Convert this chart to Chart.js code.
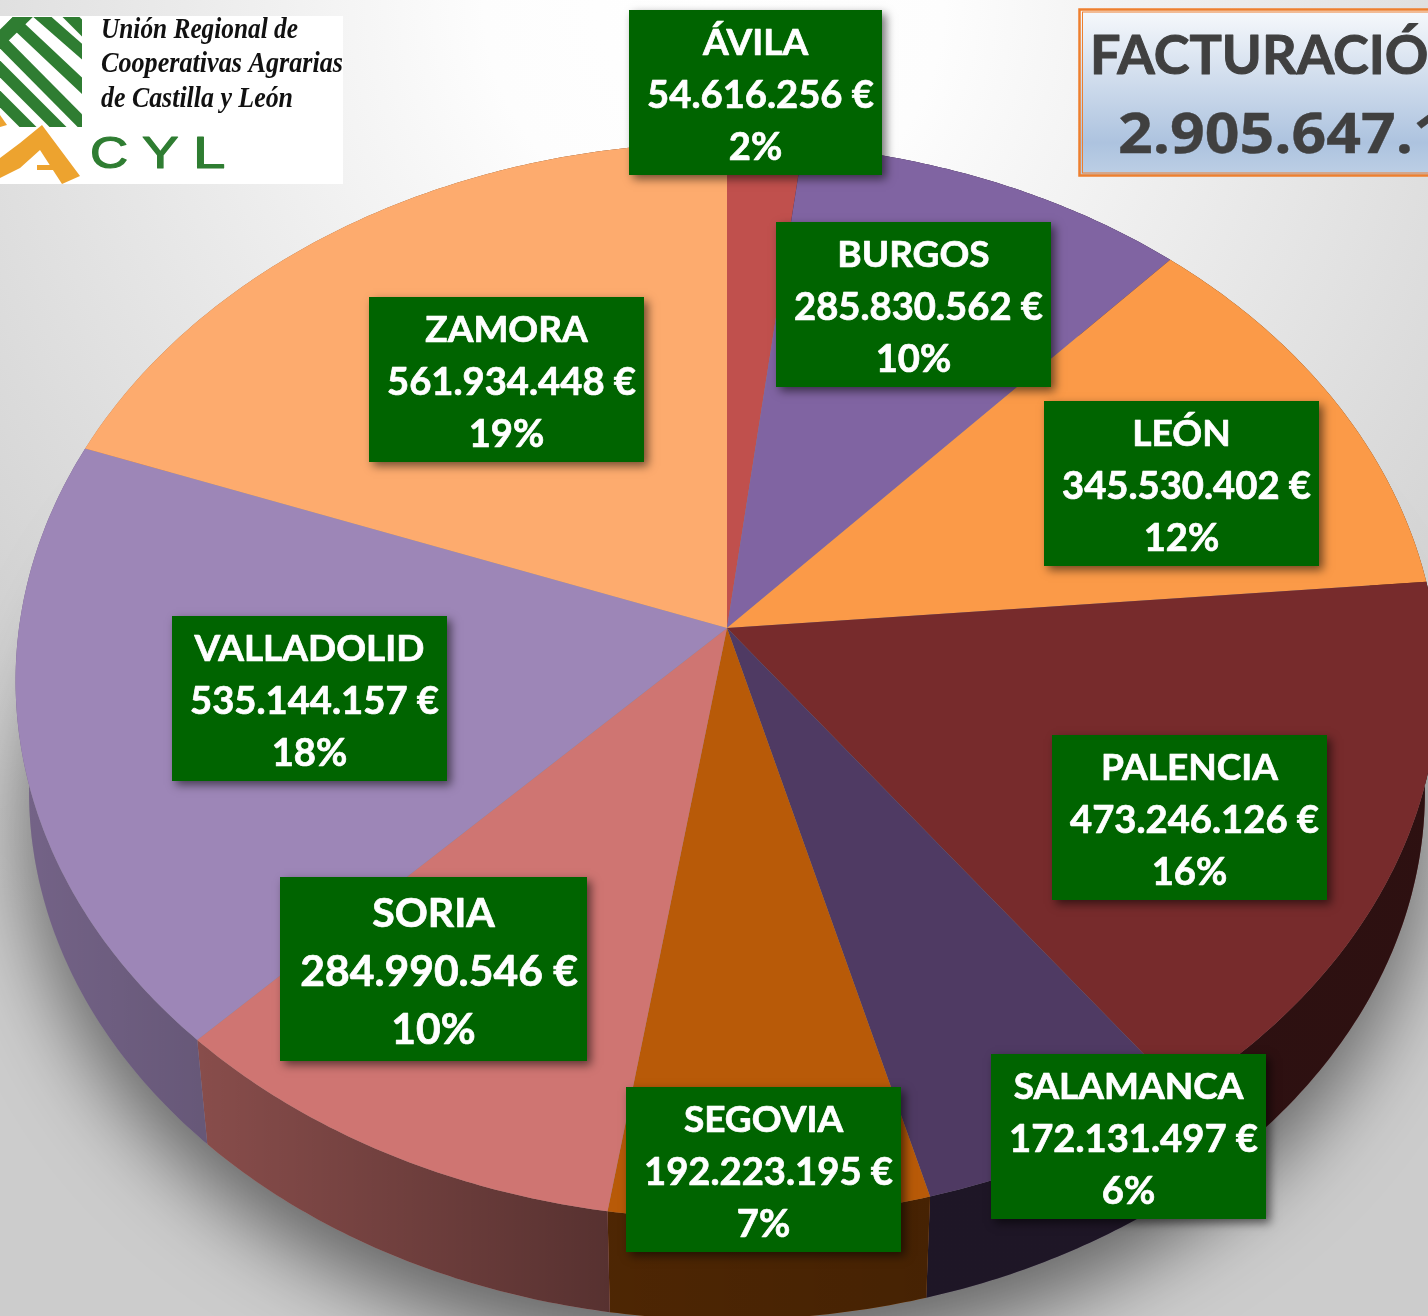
<!DOCTYPE html>
<html lang="es">
<head>
<meta charset="utf-8">
<title>Facturación</title>
<style>html,body{margin:0;padding:0;background:#ccc;overflow:hidden}canvas{display:block}</style>
<script src="https://cdn.jsdelivr.net/npm/chart.js@4/dist/chart.umd.js"></script>
</head>
<body>
<canvas id="c" width="1428" height="1316"></canvas>
<script>
const provinces = ['ÁVILA','BURGOS','LEÓN','PALENCIA','SALAMANCA','SEGOVIA','SORIA','VALLADOLID','ZAMORA'];
const revenue = [54616256,285830562,345530402,473246126,172131497,192223195,284990546,535144157,561934448];
const sliceColors = ['#c0504d','#8064a2','#fb9a48','#772b2c','#4f3a63','#b85a08','#cf7572','#9d86b7','#fdab6e'];
const totalTitle = 'FACTURACIÓN';
const totalValue = '2.905.647.189 €';
const logoLines = ['Unión Regional de','Cooperativas Agrarias','de Castilla y León'];

// Layout of annotations (separate from data)
const labelBoxes = [[629,10,253,165],[776,222,275,165],[1044,401,275,165],[1052,735,275,165],[991,1054,275,165],[626,1087,275,165],[280,877,307,184],[172,616,275,165],[369,297,275,165]];

// Perspective of the pie's top face and its lower rim
const P = {cx:727, cy:628, a:708, b:533, k:0.098, rim:0.981, drop:112};
function project(theta, lower){
  const X = Math.sin(theta), Y = -Math.cos(theta), w = 1 - P.k*Y;
  let x = P.a*X/w, y = P.b*Y/w;
  if(lower){ x*=P.rim; y=y*P.rim+P.drop; }
  return [P.cx+x, P.cy+y];
}
function arcPts(a0,a1,lower){
  const n = Math.max(2,Math.ceil(Math.abs(a1-a0)/0.01)), pts=[];
  for(let i=0;i<=n;i++) pts.push(project(a0+(a1-a0)*i/n,lower));
  return pts;
}
const theta = a => a + Math.PI/2;
function wallShade(ctx){
  const g = ctx.createLinearGradient(0,0,1428,0);
  g.addColorStop(0,'rgba(0,0,0,0.25)');
  g.addColorStop(0.147,'rgba(0,0,0,0.35)');
  g.addColorStop(0.427,'rgba(0,0,0,0.58)');
  g.addColorStop(0.65,'rgba(0,0,0,0.62)');
  g.addColorStop(1,'rgba(0,0,0,0.62)');
  return g;
}
function boldText(ctx,text,x,y,weight){
  ctx.fillText(text,x,y);
  ctx.lineWidth=weight; ctx.lineJoin='round'; ctx.strokeStyle=ctx.fillStyle;
  ctx.strokeText(text,x,y);
}
function drawLogo(ctx){
  ctx.save();
  ctx.fillStyle='#fff'; ctx.fillRect(0,16,343,168);
  ctx.save();
  ctx.beginPath(); ctx.rect(0,17,82,110); ctx.clip();
  ctx.strokeStyle='#2f7d32'; ctx.lineWidth=12; ctx.lineCap='butt';
  [[[60,6],[94,40]],[[31,7],[95,63]],[[11,19],[95,98]],[[-7,33],[95,136]],[[-13,56],[70,139]],[[-13,86],[40,139]]].forEach(s=>{
    ctx.beginPath(); ctx.moveTo(s[0][0],s[0][1]); ctx.lineTo(s[1][0],s[1][1]); ctx.stroke();
  });
  ctx.lineWidth=14;
  ctx.beginPath(); ctx.moveTo(30,10); ctx.lineTo(-8,47); ctx.stroke();
  ctx.restore();
  ctx.fillStyle='#eda32f';
  ctx.beginPath(); ctx.moveTo(0,115); ctx.lineTo(7,125); ctx.lineTo(0,127); ctx.closePath(); ctx.fill();
  ctx.beginPath();
  [[42,125],[80,176],[62,184],[40,150],[20,168],[0,178],[0,158],[20,143]].forEach((p,i)=>i?ctx.lineTo(p[0],p[1]):ctx.moveTo(p[0],p[1]));
  ctx.closePath();ctx.fill();
  ctx.fillRect(37,165,22,5);
  ctx.fillStyle='#111'; ctx.textAlign='left'; ctx.textBaseline='alphabetic';
  ctx.font='italic 700 30px "Liberation Serif"';
  ctx.fillText(logoLines[0],101,38,197);
  ctx.fillText(logoLines[1],101,72,242);
  ctx.fillText(logoLines[2],101,107,192);
  ctx.fillStyle='#2f7d32'; ctx.font='44px "Liberation Sans"';
  [['C',90,1.2],['Y',142,1.25],['L',193,1.32]].forEach(([t,x,sx])=>{
    ctx.save(); ctx.translate(x,168); ctx.scale(sx,1); boldText(ctx,t,0,0,1.2); ctx.restore();
  });
  ctx.restore();
}
function drawTitle(ctx){
  ctx.save();
  const g = ctx.createLinearGradient(0,9,0,176);
  g.addColorStop(0,'#f7f9fc'); g.addColorStop(0.8,'#adc3df'); g.addColorStop(1,'#bdcfe5');
  ctx.fillStyle=g; ctx.fillRect(1079,9,360,167);
  ctx.strokeStyle='#ee7f2e'; ctx.lineWidth=2.5; ctx.strokeRect(1079.5,9.5,360,166);
  ctx.lineWidth=1; ctx.strokeRect(1082.5,12,360,161);
  ctx.fillStyle='#404040'; ctx.textAlign='left'; ctx.textBaseline='alphabetic';
  ctx.font='700 54px Lato';
  boldText(ctx,totalTitle,1090,74,1);
  ctx.font='700 56px "Open Sans"';
  ctx.translate(1118,153); ctx.scale(1.085,1);
  boldText(ctx,totalValue,0,0,0.4);
  ctx.restore();
}
const euro = n => String(n).replace(/\B(?=(\d{3})+$)/g,'.') + ' €';
const pct = v => Math.round(100*v/revenue.reduce((s,x)=>s+x,0)) + '%';
function drawLabels(ctx){
  provinces.forEach((name,i)=>{
    const [x,y,w,h]=labelBoxes[i], s=h/165;
    ctx.save();
    ctx.shadowColor='rgba(0,0,0,0.55)'; ctx.shadowBlur=9; ctx.shadowOffsetX=4; ctx.shadowOffsetY=4;
    ctx.fillStyle='#006400'; ctx.fillRect(x,y,w,h);
    ctx.restore();
    ctx.save();
    ctx.fillStyle='#fff'; ctx.textAlign='center'; ctx.textBaseline='alphabetic';
    const cx=x+w/2;
    ctx.font='700 '+Math.round(37*s)+'px Lato';
    boldText(ctx,name,cx,y+44.5*s,0.7);
    ctx.font='700 '+(38.2*s).toFixed(1)+'px Lato';
    boldText(ctx,euro(revenue[i]),cx+5*s,y+98*s,0.7);
    boldText(ctx,pct(revenue[i]),cx,y+149.5*s,0.7);
    ctx.restore();
  });
}

const pie3d = {
  id:'pie3d',
  beforeDraw(chart){
    const ctx=chart.ctx;
    const g=ctx.createRadialGradient(714,0,0,714,0,1150);
    g.addColorStop(0,'#ffffff'); g.addColorStop(0.2,'#fdfdfd'); g.addColorStop(0.85,'#d0d0d0'); g.addColorStop(1,'#cccccc');
    ctx.save(); ctx.fillStyle=g; ctx.fillRect(0,0,1428,1316); ctx.restore();
  },
  beforeDatasetsDraw(chart){
    const ctx=chart.ctx, arcs=chart.getDatasetMeta(0).data;
    // drop shadow below the disc
    ctx.save();
    ctx.shadowColor='rgba(0,0,0,0.5)'; ctx.shadowBlur=80; ctx.shadowOffsetY=40;
    ctx.fillStyle='#888';
    ctx.beginPath();
    arcPts(0,Math.PI*2,true).forEach((p,i)=>i?ctx.lineTo(p[0],p[1]):ctx.moveTo(p[0],p[1]));
    ctx.closePath(); ctx.fill();
    ctx.restore();
    // side walls
    const shade=wallShade(ctx);
    arcs.forEach(el=>{
      const t0=theta(el.startAngle), t1=theta(el.endAngle);
      const top=arcPts(t0,t1,false), low=arcPts(t1,t0,true);
      ctx.save();
      ctx.beginPath();
      top.concat(low).forEach((p,j)=>j?ctx.lineTo(p[0],p[1]):ctx.moveTo(p[0],p[1]));
      ctx.closePath();
      ctx.fillStyle=el.options.backgroundColor; ctx.fill();
      ctx.fillStyle=shade; ctx.fill();
      ctx.restore();
    });
    // top faces replace the library's circular arc path
    arcs.forEach(el=>{
      el.draw=function(c){
        const pts=arcPts(theta(this.startAngle),theta(this.endAngle),false);
        c.save();
        c.beginPath(); c.moveTo(P.cx,P.cy);
        pts.forEach(p=>c.lineTo(p[0],p[1]));
        c.closePath();
        c.fillStyle=this.options.backgroundColor; c.fill();
        c.restore();
      };
    });
  },
  afterDraw(chart){
    const ctx=chart.ctx;
    drawLogo(ctx); drawTitle(ctx); drawLabels(ctx);
  }
};

new Chart(document.getElementById('c'),{
  type:'pie',
  data:{labels:provinces,datasets:[{data:revenue,backgroundColor:sliceColors,borderWidth:0}]},
  options:{
    responsive:false,animation:false,
    layout:{padding:0},
    rotation:0,
    plugins:{legend:{display:false},tooltip:{enabled:false}}
  },
  plugins:[pie3d]
});
</script>
</body>
</html>
